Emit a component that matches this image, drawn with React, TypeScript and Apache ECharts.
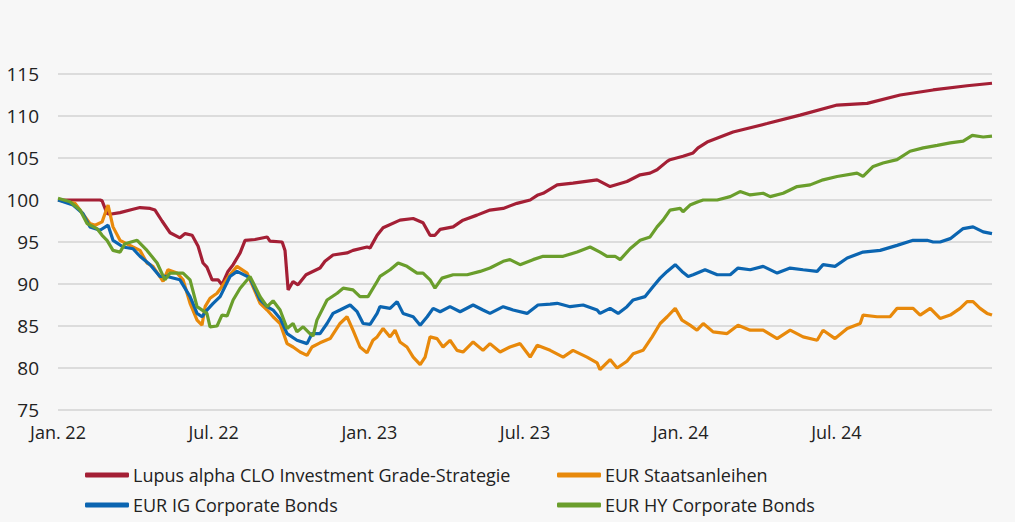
import React, { useEffect, useRef } from "react";
import * as echarts from "echarts";

// x = months since Jan. 2022
const xTickLabels = ["Jan. 22", "Jul. 22", "Jan. 23", "Jul. 23", "Jan. 24", "Jul. 24"];
const seriesNames = [
  "Lupus alpha CLO Investment Grade-Strategie",
  "EUR Staatsanleihen",
  "EUR IG Corporate Bonds",
  "EUR HY Corporate Bonds",
];
const seriesColors = ["#a41f35", "#e8890b", "#0b65b1", "#6a9e2c"];

const cloData: [number, number][] = [
  [0, 100], [0.96, 100.0], [1.62, 100], [1.7, 99.9], [1.89, 98.4], [2.0, 98.3], [2.39, 98.5], [2.89, 98.9],
  [3.16, 99.1], [3.55, 99.0], [3.74, 98.8], [4.01, 97.5], [4.32, 96.1], [4.7, 95.5], [4.9, 96.0], [5.17, 95.8],
  [5.4, 94.5], [5.59, 92.5], [5.74, 92.0], [5.94, 90.5], [6.17, 90.5], [6.32, 89.9], [6.55, 91.5], [6.75, 92.3],
  [7.02, 93.7], [7.21, 95.2], [7.59, 95.3], [8.06, 95.6], [8.17, 95.1], [8.64, 95.0], [8.75, 94.0], [8.87, 89.3],
  [9.06, 90.3], [9.25, 89.9], [9.56, 91.1], [10.1, 91.9], [10.29, 92.7], [10.6, 93.45], [11.14, 93.7], [11.37, 94.0],
  [11.91, 94.4], [12.03, 94.3], [12.3, 95.8], [12.53, 96.7], [13.18, 97.6], [13.69, 97.8], [14.07, 97.3], [14.34, 95.8],
  [14.53, 95.8], [14.73, 96.5], [15.23, 96.8], [15.61, 97.6], [16.15, 98.2], [16.65, 98.8], [17.16, 99.0], [17.69, 99.6],
  [18.2, 100.0], [18.5, 100.6], [18.7, 100.8], [19.24, 101.8], [19.85, 102.0], [20.78, 102.4], [21.28, 101.6], [21.93, 102.2],
  [22.44, 103.0], [22.82, 103.2], [23.09, 103.6], [23.48, 104.6], [23.59, 104.8], [24.09, 105.2], [24.48, 105.6], [24.67, 106.2],
  [25.02, 106.9], [26.02, 108.1], [27.33, 109.1], [28.6, 110.1], [30.03, 111.3], [31.19, 111.5], [32.46, 112.5], [33.73, 113.1],
  [35.04, 113.6], [36, 113.9],
];

const govData: [number, number][] = [
  [0, 100], [0.66, 99.6], [1.04, 98.0], [1.23, 97.2], [1.43, 97.0], [1.7, 97.4], [1.93, 99.4], [2.12, 96.8],
  [2.39, 95.2], [2.89, 94.4], [3.16, 94.0], [3.43, 92.5], [3.66, 92.1], [4.05, 90.3], [4.24, 91.7], [4.59, 91.3],
  [4.82, 90.5], [5.09, 87.7], [5.36, 85.7], [5.55, 85.1], [5.67, 87.3], [5.86, 88.3], [6.13, 88.9], [6.32, 89.7],
  [6.63, 91.1], [6.9, 92.1], [7.29, 91.3], [7.4, 90.5], [7.79, 87.7], [8.06, 86.9], [8.29, 86.1], [8.56, 85.3],
  [8.83, 82.9], [9.06, 82.5], [9.33, 81.9], [9.6, 81.5], [9.79, 82.5], [10.1, 83.0], [10.49, 83.5], [10.87, 85.3],
  [11.14, 86.1], [11.37, 84.5], [11.64, 82.5], [11.91, 81.8], [12.14, 83.3], [12.3, 83.7], [12.53, 84.7], [12.8, 83.7],
  [12.99, 84.5], [13.18, 83.1], [13.45, 82.5], [13.69, 81.3], [13.96, 80.4], [14.15, 81.3], [14.34, 83.7], [14.61, 83.5],
  [14.84, 82.5], [15.11, 83.3], [15.38, 82.1], [15.61, 81.9], [16.0, 83.1], [16.38, 82.1], [16.65, 82.9], [17.04, 81.9],
  [17.42, 82.5], [17.81, 82.9], [18.2, 81.3], [18.47, 82.7], [18.97, 82.1], [19.47, 81.3], [19.85, 82.1], [20.39, 81.3],
  [20.78, 80.6], [20.89, 79.8], [21.28, 81.0], [21.55, 80.0], [21.93, 80.8], [22.17, 81.7], [22.55, 82.1], [22.9, 83.7],
  [23.21, 85.3], [23.48, 86.1], [23.79, 87.1], [24.05, 85.7], [24.36, 85.1], [24.63, 84.5], [24.87, 85.3], [25.25, 84.3],
  [25.79, 84.1], [26.21, 85.1], [26.68, 84.5], [27.18, 84.5], [27.72, 83.5], [28.22, 84.5], [28.72, 83.7], [29.26, 83.3],
  [29.49, 84.5], [29.95, 83.5], [30.42, 84.7], [30.92, 85.3], [31.03, 86.3], [31.57, 86.1], [32.07, 86.1], [32.34, 87.1],
  [32.96, 87.1], [33.23, 86.3], [33.62, 87.1], [34.0, 85.9], [34.39, 86.3], [34.77, 87.1], [35.04, 87.9], [35.27, 87.9],
  [35.54, 87.1], [35.81, 86.5], [36, 86.3],
];

const igData: [number, number][] = [
  [0, 100], [0.58, 99.4], [0.96, 98.4], [1.23, 96.8], [1.62, 96.4], [1.93, 97.0], [2.12, 95.2], [2.51, 94.4],
  [2.89, 94.2], [3.16, 93.3], [3.55, 92.3], [3.93, 90.9], [4.2, 90.9], [4.7, 90.5], [5.09, 88.5], [5.36, 86.5],
  [5.55, 86.1], [5.74, 86.9], [5.98, 87.7], [6.25, 88.5], [6.63, 90.9], [6.9, 91.5], [7.29, 90.9], [7.4, 90.7],
  [7.79, 88.1], [8.06, 87.3], [8.29, 86.9], [8.56, 85.9], [8.83, 84.1], [9.21, 83.3], [9.6, 82.9], [9.79, 84.1],
  [10.1, 84.1], [10.37, 85.3], [10.6, 86.5], [10.87, 86.9], [11.26, 87.5], [11.53, 86.7], [11.76, 85.3], [12.03, 85.2],
  [12.3, 86.5], [12.41, 87.3], [12.8, 87.1], [13.07, 87.9], [13.3, 86.5], [13.69, 86.1], [13.96, 85.1], [14.23, 86.1],
  [14.46, 87.1], [14.73, 86.7], [15.11, 87.3], [15.5, 86.7], [16.0, 87.5], [16.38, 86.9], [16.65, 86.5], [17.16, 87.3],
  [17.54, 86.9], [18.08, 86.5], [18.5, 87.5], [18.97, 87.6], [19.24, 87.7], [19.74, 87.3], [20.24, 87.5], [20.78, 86.9],
  [20.89, 86.5], [21.28, 87.1], [21.59, 86.5], [21.93, 87.3], [22.17, 88.1], [22.63, 88.5], [22.94, 89.7], [23.21, 90.7],
  [23.48, 91.5], [23.79, 92.3], [24.05, 91.5], [24.29, 90.9], [24.48, 91.1], [24.94, 91.7], [25.41, 91.1], [25.91, 91.1],
  [26.21, 91.9], [26.68, 91.7], [27.18, 92.1], [27.72, 91.3], [28.22, 91.9], [28.72, 91.7], [29.26, 91.5], [29.49, 92.3],
  [29.95, 92.1], [30.42, 93.1], [31.03, 93.8], [31.69, 94.0], [32.34, 94.6], [32.96, 95.2], [33.5, 95.2], [33.73, 95.0],
  [34.0, 95.0], [34.39, 95.4], [34.89, 96.6], [35.27, 96.8], [35.66, 96.2], [36, 96.0],
];

const hyData: [number, number][] = [
  [0, 100.2], [0.46, 99.8], [0.85, 98.8], [1.12, 97.2], [1.5, 96.6], [1.7, 95.8], [1.89, 95.2], [2.12, 94.0],
  [2.39, 93.8], [2.58, 94.8], [3.05, 95.2], [3.43, 94.0], [3.82, 92.5], [4.12, 90.5], [4.32, 91.3], [4.82, 91.3],
  [5.09, 90.5], [5.36, 87.3], [5.74, 86.5], [5.86, 84.9], [6.13, 85.0], [6.32, 86.3], [6.52, 86.2], [6.75, 88.1],
  [7.02, 89.5], [7.4, 90.9], [7.79, 88.5], [8.06, 87.3], [8.29, 88.0], [8.56, 86.9], [8.83, 84.7], [9.06, 85.3],
  [9.21, 84.3], [9.45, 84.9], [9.71, 84.1], [9.83, 83.8], [9.98, 85.7], [10.37, 88.1], [10.76, 88.9], [10.99, 89.5],
  [11.37, 89.3], [11.64, 88.5], [11.95, 88.5], [12.3, 90.3], [12.41, 90.9], [12.8, 91.7], [13.11, 92.5], [13.45, 92.1],
  [13.84, 91.3], [14.07, 91.3], [14.34, 90.5], [14.53, 89.5], [14.8, 90.7], [15.23, 91.1], [15.77, 91.1], [16.27, 91.5],
  [16.65, 91.9], [17.16, 92.7], [17.42, 92.9], [17.81, 92.3], [18.31, 92.9], [18.7, 93.3], [19.47, 93.3], [20.01, 93.8],
  [20.51, 94.4], [20.89, 93.8], [21.16, 93.3], [21.47, 93.3], [21.67, 92.9], [22.05, 94.2], [22.44, 95.2], [22.82, 95.6],
  [23.09, 96.8], [23.32, 97.6], [23.59, 98.8], [23.98, 99.0], [24.09, 98.6], [24.36, 99.4], [24.67, 99.8], [24.87, 100.0],
  [25.41, 100.0], [25.91, 100.4], [26.29, 101.0], [26.68, 100.6], [27.18, 100.8], [27.45, 100.4], [27.95, 100.8], [28.49, 101.6],
  [28.99, 101.8], [29.49, 102.4], [30.03, 102.8], [30.8, 103.2], [31.03, 102.8], [31.42, 104.0], [31.8, 104.4], [32.34, 104.8],
  [32.84, 105.8], [33.35, 106.2], [33.89, 106.5], [34.39, 106.8], [34.89, 107.0], [35.24, 107.7], [35.66, 107.5], [36, 107.6],
];

const FONT = "'Open Sans', 'Noto Sans', sans-serif";

export default function App() {
  const ref = useRef<HTMLDivElement>(null);
  useEffect(() => {
    document.body.style.margin = "0";
    const chart = echarts.init(ref.current!, undefined, { renderer: "svg" });
    const dataSets = [cloData, govData, igData, hyData];
    const legendPos = [
      { left: 85, top: 466 },
      { left: 557, top: 466 },
      { left: 85, top: 496 },
      { left: 557, top: 496 },
    ];
    const drawOrder = [1, 2, 3, 0];
    chart.setOption({
      animation: false,
      backgroundColor: "#f7f7f7",
      textStyle: { fontFamily: FONT },
      grid: { left: 58, right: 23, top: 74, bottom: 112, containLabel: false },
      xAxis: {
        type: "value",
        min: 0,
        max: 36,
        interval: 6,
        axisLine: { show: false },
        axisTick: { show: false },
        splitLine: { show: false },
        axisLabel: {
          color: "#222",
          fontSize: 18,
          fontFamily: FONT,
          margin: 13,
          formatter: (v: number) => xTickLabels[Math.round(v / 6)] ?? "",
        },
      },
      yAxis: {
        type: "value",
        min: 75,
        max: 115,
        interval: 5,
        axisLine: { show: false },
        axisTick: { show: false },
        splitLine: { lineStyle: { color: "#dcdcdc", width: 2 } },
        axisLabel: { color: "#222", fontSize: 19, fontFamily: FONT, margin: 19 },
      },
      legend: seriesNames.map((n, i) => ({
        data: [n],
        left: legendPos[i].left,
        top: legendPos[i].top,
        padding: 0,
        icon: "roundRect",
        itemWidth: 44,
        itemHeight: 5,
        itemGap: 4,
        selectedMode: false,
        textStyle: { color: "#222", fontSize: 18, fontFamily: FONT, padding: [0, 0, 0, -1] },
      })),
      series: drawOrder.map((i) => ({
        name: seriesNames[i],
        type: "line",
        data: dataSets[i],
        showSymbol: false,
        symbol: "none",
        lineStyle: { color: seriesColors[i], width: 3.2 },
        itemStyle: { color: seriesColors[i] },
        z: 2 + i,
      })),
    });
    return () => chart.dispose();
  }, []);
  return (
    <div
      ref={ref}
      style={{ position: "fixed", left: 0, top: 0, width: 1015, height: 522 }}
    />
  );
}
